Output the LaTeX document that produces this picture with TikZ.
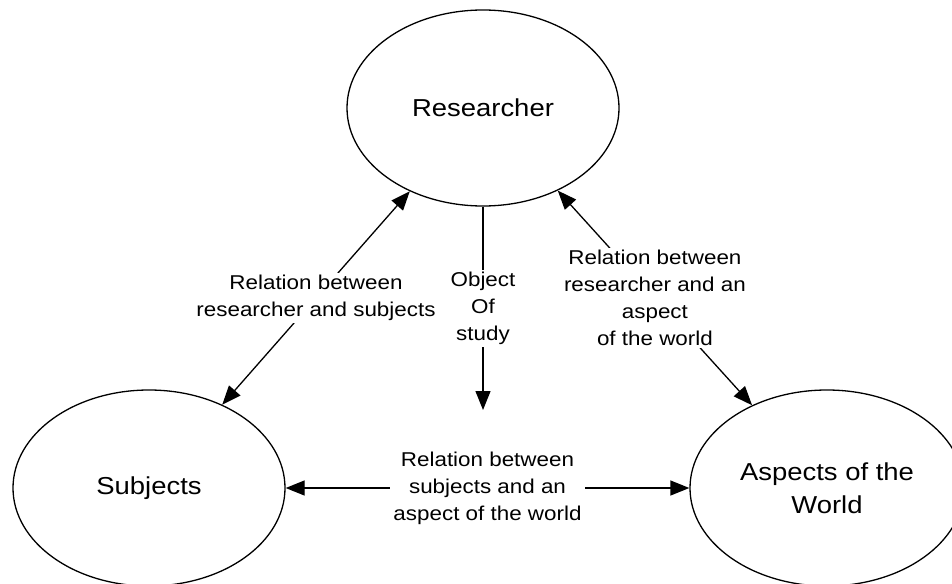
\documentclass[tikz,border=0pt]{standalone}
\usepackage{fontspec}
\setmainfont[FakeStretch=1.12]{Liberation Sans}
\usetikzlibrary{arrows.meta,shapes.geometric}
\tikzset{
  blob/.style={draw, ellipse, line width=1.3pt, inner sep=0pt, minimum width=272pt, minimum height=196pt,
    font=\fontsize{24.5}{33}\selectfont, align=center},
  conn/.style={line width=1.3pt, -{Triangle[length=19pt,width=15pt]}},
  biconn/.style={line width=1.3pt, {Triangle[length=19pt,width=15pt]}-{Triangle[length=19pt,width=15pt]}},
  lbl/.style={fill=white, inner xsep=3pt, inner ysep=2pt, align=center, font=\fontsize{20}{27}\selectfont}
}
\begin{document}
\begin{tikzpicture}[x=1pt,y=-1pt]
\useasboundingbox (0,0) rectangle (952,583);
\clip (0,0) rectangle (952,583);
\node[blob] (R) at (483,108) {Researcher};
\node[blob] (S) at (149,488) {Subjects};
\node[blob, minimum width=274pt] (A) at (827,488) {Aspects of the\\World};
\coordinate (T) at (483,410);
\draw[biconn] (R) -- node[lbl] {Relation between\\researcher and subjects} (S);
\draw[biconn] (R) -- node[lbl] {Relation between\\researcher and an\\aspect\\of the world} (A);
\draw[biconn] (S) -- node[lbl] {Relation between\\subjects and an\\aspect of the world} (A);
\draw[conn] (R.south) -- node[lbl] {Object\\Of\\study} (T);
\end{tikzpicture}
\end{document}
